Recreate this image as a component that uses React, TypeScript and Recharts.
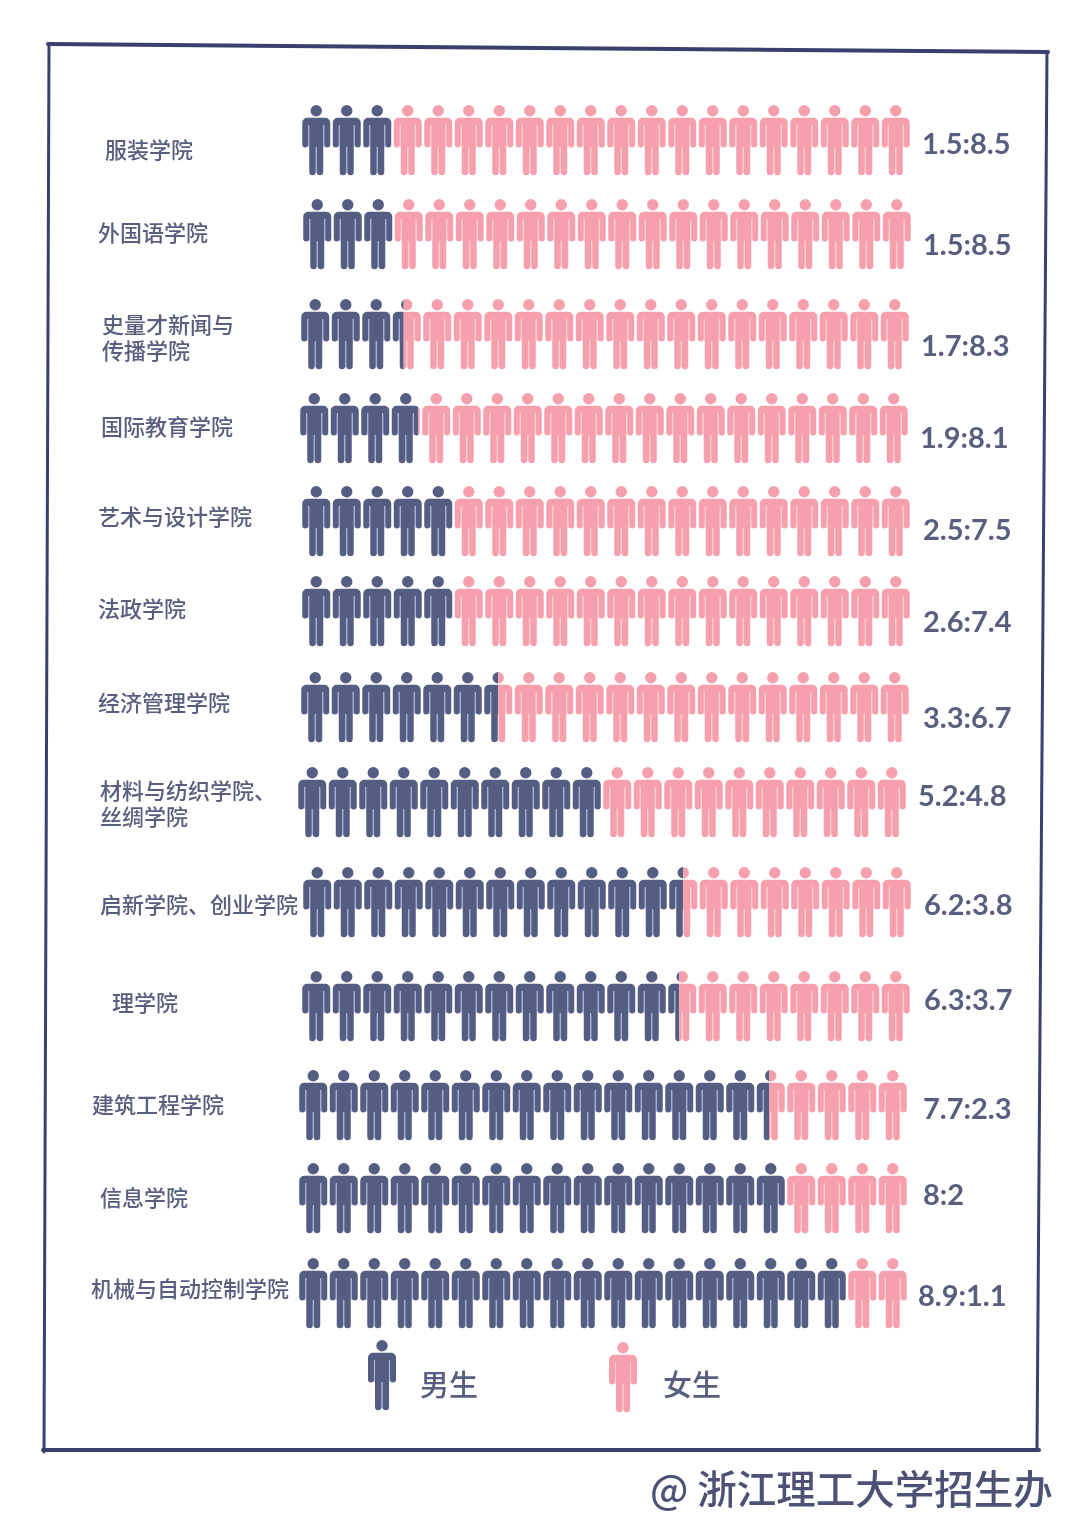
import { Bar, BarChart, LabelList, Legend, XAxis, YAxis } from "recharts";

const colleges = [
  "服装学院",
  "外国语学院",
  "史量才新闻与\n传播学院",
  "国际教育学院",
  "艺术与设计学院",
  "法政学院",
  "经济管理学院",
  "材料与纺织学院、\n丝绸学院",
  "启新学院、创业学院",
  "理学院",
  "建筑工程学院",
  "信息学院",
  "机械与自动控制学院",
];
const ratioLabels = ["1.5:8.5", "1.5:8.5", "1.7:8.3", "1.9:8.1", "2.5:7.5", "2.6:7.4", "3.3:6.7", "5.2:4.8", "6.2:3.8", "6.3:3.7", "7.7:2.3", "8:2", "8.9:1.1"];
// shares as drawn by the icons, which round a few of the printed ratios
const maleShare = [1.5, 1.5, 1.7, 1.95, 2.5, 2.5, 3.25, 5, 6.25, 6.2, 7.72, 8, 9];
const femaleShare = [8.5, 8.5, 8.3, 8.05, 7.5, 7.5, 6.75, 5, 3.75, 3.8, 2.28, 2, 1];

const chartData = colleges.map((name, i) => ({
  name,
  ratio: ratioLabels[i],
  male: maleShare[i],
  female: femaleShare[i],
}));

// the rows were placed by hand in the original, so each one sits a little off the grid
const rowNudgeX = [0, 1, -1, -2, 0, 0, -1, -4, 1, 0, -3, -3, -3];
const rowNudgeY = [0, -2, 2, 0, -3, -9, -9, -10, -6, 2, 5, 2, 1];
const labelX = [105, 98, 102, 101, 98, 98, 98, 100, 100, 112, 92, 100, 91];
const labelY = [150, 233, 325, 427, 517, 609, 703, 791, 905, 1003, 1105, 1198, 1289];
const ratioX = [922, 923, 921, 920, 923, 923, 923, 918, 924, 924, 923, 923, 918];
const ratioY = [144, 245, 346, 438, 530, 622, 718, 796, 905, 1000, 1109, 1195, 1296];

const INK = "#5a5e7e";
const FRAME = "#3b3f6e";
const MALE = "#545d82";
const MALE_GAP = "#b4bde6";
const FEMALE = "#f6a0ad";
const FEMALE_GAP = "#fbd0d5";
const CJK = '"Noto Sans CJK SC", sans-serif';

const PLOT_LEFT = 301;
const PLOT_WIDTH = 610;
const SLOT = PLOT_WIDTH / 20;
const ICON_W = 28;

const BODY =
  "M14 0a5.7 5.7 0 1 1 0 11.4a5.7 5.7 0 1 1 0-11.4z" +
  "M5 12.8H23a5 5 0 0 1 5 5V39.5a3 3 0 0 1-6 0V20H21V67a3.25 3.25 0 0 1-6.5 0V42H13.5V67a3.25 3.25 0 0 1-6.5 0V20H6V39.5a3 3 0 0 1-6 0V17.8a5 5 0 0 1 5-5z";
const GAPS = "M6.5 20V42M21.5 20V42M14 42V68";

function Person({ x, y, fill, gap }: { x: number; y: number; fill: string; gap: string }) {
  return (
    <g transform={`translate(${x},${y})`}>
      <path d={GAPS} stroke={gap} strokeWidth={1.1} fill="none" />
      <path d={BODY} fill={fill} />
    </g>
  );
}

// one bar is a strip of 20 people cut down to the bar's own extent
function PeopleBar(props: any) {
  const { x, y, width, height, index, fill, gap, clipKey } = props;
  const dx = rowNudgeX[index];
  const dy = rowNudgeY[index];
  const top = y + height / 2 - 35 + dy;
  const clipId = `${clipKey}-${index}`;
  const people = [];
  for (let i = 0; i < 20; i++) {
    people.push(<Person key={i} x={PLOT_LEFT + i * SLOT + (SLOT - ICON_W) / 2 + dx} y={top} fill={fill} gap={gap} />);
  }
  return (
    <g>
      <clipPath id={clipId}>
        <rect x={x + dx} y={top - 2} width={width} height={74} />
      </clipPath>
      <g clipPath={`url(#${clipId})`}>{people}</g>
    </g>
  );
}

function CollegeTick({ payload, index }: any) {
  const lines = String(payload.value).split("\n");
  return (
    <text x={labelX[index]} y={labelY[index] + 8} fontFamily={CJK} fontSize={22} fontWeight={500} fill={INK}>
      {lines.map((line, i) => (
        <tspan key={i} x={labelX[index]} dy={i === 0 ? 0 : 26}>
          {line}
        </tspan>
      ))}
    </text>
  );
}

function RatioLabel({ index, value }: any) {
  return (
    <text x={ratioX[index]} y={ratioY[index] + 10} fontFamily="Lato, sans-serif" fontSize={29} fontWeight={700} fill={INK}>
      {value}
    </text>
  );
}

const legendSpots: Record<string, { icon: number; iconTop: number; text: number; gap: string }> = {
  男生: { icon: 367, iconTop: -1, text: 420, gap: MALE_GAP },
  女生: { icon: 608, iconTop: 1, text: 663, gap: FEMALE_GAP },
};

function LegendRow({ payload }: any) {
  return (
    <div style={{ position: "relative", width: 1080, height: 80 }}>
      {(payload || []).map((entry: any) => {
        const spot = legendSpots[entry.value];
        return (
          <div key={entry.value}>
            <svg width={30} height={72} style={{ position: "absolute", left: spot.icon, top: spot.iconTop }}>
              <Person x={1} y={1} fill={entry.color} gap={spot.gap} />
            </svg>
            <span
              style={{
                position: "absolute",
                left: spot.text,
                top: 23,
                fontFamily: CJK,
                fontSize: 29,
                fontWeight: 500,
                color: INK,
                lineHeight: "40px",
              }}
            >
              {entry.value}
            </span>
          </div>
        );
      })}
    </div>
  );
}

export default function App() {
  return (
    <div
      style={{
        position: "absolute",
        left: 0,
        top: 0,
        width: 1080,
        height: 1528,
        background: "#fff",
        overflow: "hidden",
        filter: "blur(0.4px)",
      }}
    >
      <svg width={1080} height={1528} style={{ position: "absolute", left: 0, top: 0 }}>
        <path d="M48 44 L1048 52" stroke={FRAME} strokeWidth={4} fill="none" strokeLinecap="round" />
        <path d="M1047 52 L1037 1450" stroke={FRAME} strokeWidth={3} fill="none" strokeLinecap="round" />
        <path d="M43 1450 L1039 1450" stroke={FRAME} strokeWidth={4} fill="none" strokeLinecap="round" />
        <path d="M49 44 L44 1452" stroke={FRAME} strokeWidth={3} fill="none" strokeLinecap="round" />
        <text x={650} y={1504} fontFamily={CJK} fontSize={39.5} fontWeight={500} fill="#4d5176">
          @ 浙江理工大学招生办
        </text>
      </svg>
      <div style={{ position: "absolute", left: 0, top: 0 }}>
        <BarChart
          width={1080}
          height={1528}
          data={chartData}
          layout="vertical"
          margin={{ top: 92, right: 1080 - PLOT_LEFT - PLOT_WIDTH, bottom: 188, left: 0 }}
          barCategoryGap={20}
        >
          <XAxis type="number" domain={[0, 10]} hide />
          <YAxis
            type="category"
            dataKey="name"
            width={PLOT_LEFT}
            axisLine={false}
            tickLine={false}
            interval={0}
            tick={<CollegeTick />}
          />
          <Bar
            dataKey="male"
            name="男生"
            stackId="share"
            fill={MALE}
            isAnimationActive={false}
            shape={(p: any) => <PeopleBar {...p} clipKey="male" gap={MALE_GAP} fill={MALE} />}
          />
          <Bar
            dataKey="female"
            name="女生"
            stackId="share"
            fill={FEMALE}
            isAnimationActive={false}
            shape={(p: any) => <PeopleBar {...p} clipKey="female" gap={FEMALE_GAP} fill={FEMALE} />}
          >
            <LabelList dataKey="ratio" content={<RatioLabel />} />
          </Bar>
          <Legend
            layout="horizontal"
            verticalAlign="middle"
            align="center"
            content={<LegendRow />}
            wrapperStyle={{ left: 0, top: 1340, width: 1080, height: 80 }}
          />
        </BarChart>
      </div>
    </div>
  );
}
